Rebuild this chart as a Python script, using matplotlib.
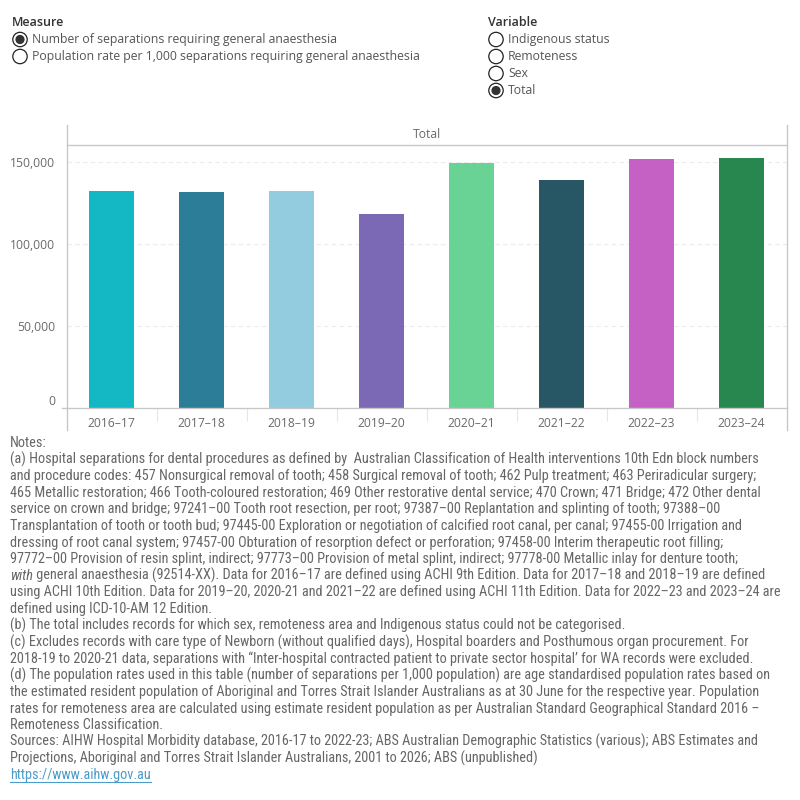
"""Dental separations requiring general anaesthesia, total, 2016-17 to 2023-24."""
import matplotlib
matplotlib.use("Agg")
import matplotlib.pyplot as plt
from matplotlib import font_manager
from matplotlib.lines import Line2D
from matplotlib.patches import Circle

years = ["2016–17", "2017–18", "2018–19", "2019–20",
         "2020–21", "2021–22", "2022–23", "2023–24"]
separations = [132500, 131900, 132500, 118500, 149600, 139200, 152000, 152600]
bar_colors = ["#13B8C4", "#2C7E98", "#94CCDF", "#7C69B5",
              "#68D394", "#275665", "#C561C4", "#27874F"]
y_ticks = [0, 50000, 100000, 150000]

measure_options = ["Number of separations requiring general anaesthesia",
                   "Population rate per 1,000 separations requiring general anaesthesia"]
variable_options = ["Indigenous status", "Remoteness", "Sex", "Total"]

notes = [
    "Notes:",
    "(a) Hospital separations for dental procedures as defined by  Australian Classification of Health interventions 10th Edn block numbers",
    "and procedure codes: 457 Nonsurgical removal of tooth; 458 Surgical removal of tooth; 462 Pulp treatment; 463 Periradicular surgery;",
    "465 Metallic restoration; 466 Tooth-coloured restoration; 469 Other restorative dental service; 470 Crown; 471 Bridge; 472 Other dental",
    "service on crown and bridge; 97241–00 Tooth root resection, per root; 97387–00 Replantation and splinting of tooth; 97388–00",
    "Transplantation of tooth or tooth bud; 97445-00 Exploration or negotiation of calcified root canal, per canal; 97455-00 Irrigation and",
    "dressing of root canal system; 97457-00 Obturation of resorption defect or perforation; 97458-00 Interim therapeutic root filling;",
    "97772–00 Provision of resin splint, indirect; 97773–00 Provision of metal splint, indirect; 97778-00 Metallic inlay for denture tooth;",
    "|with| general anaesthesia (92514-XX). Data for 2016–17 are defined using ACHI 9th Edition. Data for 2017–18 and 2018–19 are defined",
    "using ACHI 10th Edition. Data for 2019–20, 2020-21 and 2021–22 are defined using ACHI 11th Edition. Data for 2022–23 and 2023–24 are",
    "defined using ICD-10-AM 12 Edition.",
    "(b) The total includes records for which sex, remoteness area and Indigenous status could not be categorised.",
    "(c) Excludes records with care type of Newborn (without qualified days), Hospital boarders and Posthumous organ procurement. For",
    "2018-19 to 2020-21 data, separations with \u201cInter-hospital contracted patient to private sector hospital\u2019 for WA records were excluded.",
    "(d) The population rates used in this table (number of separations per 1,000 population) are age standardised population rates based on",
    "the estimated resident population of Aboriginal and Torres Strait Islander Australians as at 30 June for the respective year. Population",
    "rates for remoteness area are calculated using estimate resident population as per Australian Standard Geographical Standard 2016 –",
    "Remoteness Classification.",
    "Sources: AIHW Hospital Morbidity database, 2016-17 to 2022-23; ABS Australian Demographic Statistics (various); ABS Estimates and",
    "Projections, Aboriginal and Torres Strait Islander Australians, 2001 to 2026; ABS (unpublished)",
]
link = "https://www.aihw.gov.au"

available = {f.name for f in font_manager.fontManager.ttflist}


def pick(cands):
    for c in cands:
        if c in available:
            return c
    return "DejaVu Sans"


ui_font = pick(["Open Sans", "Lato", "Noto Sans"])
note_font = pick(["Liberation Sans Narrow", "Roboto Condensed", "Open Sans Condensed",
                  "Noto Sans Condensed", "Roboto", "Lato"])
plt.rcParams["font.family"] = [ui_font, "DejaVu Sans"]

W = H = 800
fig = plt.figure(figsize=(8, 8), dpi=100)

# bar panel, in pixel terms: x 66.5..786.5, y 145..408
L, R, T, B = 66.5, 786.5, 145, 408.3
ax = fig.add_axes([L / W, 1 - B / H, (R - L) / W, (B - T) / H])
x = range(len(years))
ax.bar(x, separations, width=0.5, color=bar_colors, zorder=2)
ax.set_xlim(-0.5, len(years) - 0.5)
ax.set_ylim(0, 150000 / (B - 162.3) * (B - T))
ax.set_yticks(y_ticks)
ax.set_yticklabels([f"{v:,}" for v in y_ticks])
ax.get_yticklabels()[0].set_verticalalignment("bottom")
ax.set_xticks(list(x))
ax.set_xticklabels(years)
ax.set_xticks([i + 0.5 for i in range(len(years) - 1)], minor=True)
ax.tick_params(axis="both", which="major", length=0, labelsize=8.7, colors="#6A6A6A")
ax.tick_params(axis="y", pad=8)
ax.tick_params(axis="x", pad=6)
ax.tick_params(axis="x", which="minor", length=9, width=0.8, color="#E6E6E6")
for s in ax.spines.values():
    s.set_visible(False)
ax.yaxis.grid(True, linestyle=(0, (4, 3)), color="#ECECEC", linewidth=0.8, zorder=0)
for gl in ax.get_ygridlines()[:1]:
    gl.set_visible(False)

# overlay in pixel coordinates for frame, header, controls and notes
ov = fig.add_axes([0, 0, 1, 1], zorder=5)
ov.set_xlim(0, W)
ov.set_ylim(H, 0)
ov.axis("off")
ov.patch.set_alpha(0)
frame = "#C8C8C8"
ov.add_line(Line2D([L, L], [125, 430], color=frame, lw=1))
ov.add_line(Line2D([R, R], [125, 430], color=frame, lw=1))
ov.add_line(Line2D([L, R], [T, T], color=frame, lw=1))
ov.add_line(Line2D([61.5, R], [B, B], color=frame, lw=1))
ov.text((L + R) / 2, 135, "Total", ha="center", va="center", fontsize=8.7, color="#6A6A6A")


def radio(cx, cy, on):
    ov.add_patch(Circle((cx, cy), 7.2, facecolor="white", edgecolor="#222222", lw=0.9))
    if on:
        ov.add_patch(Circle((cx, cy), 4.6, facecolor="#333333", edgecolor="none"))


ov.text(12, 22, "Measure", ha="left", va="center", fontsize=9, color="#333333",
        fontweight="semibold")
for i, opt in enumerate(measure_options):
    cy = 39.5 + 17 * i
    radio(20, cy, i == 0)
    ov.text(32, cy, opt, ha="left", va="center", fontsize=8.8, color="#555555")

ov.text(488, 22, "Variable", ha="left", va="center", fontsize=9, color="#333333",
        fontweight="semibold")
for i, opt in enumerate(variable_options):
    cy = 39.5 + 17 * i
    radio(496, cy, opt == "Total")
    ov.text(508, cy, opt, ha="left", va="center", fontsize=8.8, color="#555555")

# notes: size the font so the widest line spans the reference width
renderer = fig.canvas.get_renderer()
probe = ov.text(0, 0, notes[1], fontsize=9, family=[note_font, "DejaVu Sans"])
wpx = probe.get_window_extent(renderer).width
probe.remove()
note_size = min(10.4, 9 * 756 / wpx)
note_kw = dict(fontsize=note_size, color="#666666", family=[note_font, "DejaVu Sans"],
               ha="left", va="center")

y0, dy = 443, 16.6
for i, line in enumerate(notes):
    y = y0 + dy * i
    if line.startswith("|with|"):
        t = ov.text(10, y, "with", style="italic", **note_kw)
        w = t.get_window_extent(renderer).width
        ov.text(10 + w, y, line[len("|with|"):], **note_kw)
    else:
        ov.text(10, y, line, **note_kw)
y = y0 + dy * len(notes)
t = ov.text(10, y, link, **{**note_kw, "color": "#4C9BC9"})
bb = t.get_window_extent(renderer)
ov.add_line(Line2D([10, 10 + bb.width], [y + 7, y + 7], color="#4C9BC9", lw=0.8))

fig.savefig("out.png", dpi=100)
